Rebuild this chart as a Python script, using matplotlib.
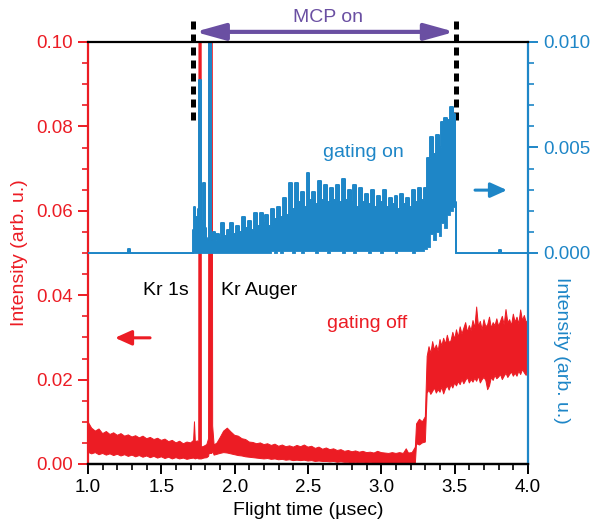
import matplotlib
matplotlib.use("Agg")
import matplotlib.pyplot as plt
from matplotlib.ticker import FixedLocator, MultipleLocator

plt.rcParams["font.family"] = ["Liberation Sans", "DejaVu Sans"]

RED = "#ec1c24"
BLUE = "#1e86c7"
PURPLE = "#6a4fa2"

# "gating off" trace (left axis): upper and lower edge of the noisy band
off_time = [
    1.000, 1.025, 1.050, 1.075, 1.100, 1.125, 1.150, 1.175,
    1.200, 1.225, 1.250, 1.275, 1.300, 1.325, 1.350, 1.375,
    1.400, 1.425, 1.450, 1.475, 1.500, 1.525, 1.550, 1.575,
    1.600, 1.625, 1.650, 1.675, 1.700, 1.720, 1.726, 1.732,
    1.745, 1.755, 1.758, 1.770, 1.773, 1.790, 1.810, 1.822,
    1.826, 1.844, 1.850, 1.860, 1.880, 1.900, 1.925, 1.950,
    1.975, 2.000, 2.025, 2.050, 2.075, 2.100, 2.125, 2.150,
    2.175, 2.200, 2.225, 2.250, 2.275, 2.300, 2.325, 2.350,
    2.375, 2.400, 2.425, 2.450, 2.475, 2.500, 2.525, 2.550,
    2.575, 2.600, 2.625, 2.650, 2.675, 2.700, 2.725, 2.750,
    2.775, 2.800, 2.825, 2.850, 2.875, 2.900, 2.925, 2.950,
    2.975, 3.000, 3.025, 3.050, 3.075, 3.100, 3.125, 3.150,
    3.170, 3.185, 3.210, 3.232, 3.240, 3.260, 3.280, 3.300,
    3.3125, 3.325, 3.3375, 3.350, 3.3625, 3.375, 3.3875, 3.400,
    3.4125, 3.425, 3.4375, 3.450, 3.4625, 3.475, 3.4875, 3.500,
    3.5125, 3.525, 3.5375, 3.550, 3.5625, 3.575, 3.5875, 3.600,
    3.6125, 3.625, 3.6375, 3.650, 3.6625, 3.675, 3.6875, 3.700,
    3.7125, 3.725, 3.7375, 3.750, 3.7625, 3.775, 3.7875, 3.800,
    3.8125, 3.825, 3.8375, 3.850, 3.8625, 3.875, 3.8875, 3.900,
    3.9125, 3.925, 3.9375, 3.950, 3.9625, 3.975, 3.9875, 4.000,
]
off_high = [
    0.0100, 0.0085, 0.0078, 0.0083, 0.0072, 0.0077, 0.0070, 0.0074,
    0.0068, 0.0072, 0.0066, 0.0069, 0.0064, 0.0067, 0.0062, 0.0066,
    0.0060, 0.0063, 0.0058, 0.0061, 0.0056, 0.0059, 0.0053, 0.0056,
    0.0050, 0.0054, 0.0048, 0.0052, 0.0050, 0.0056, 0.0100, 0.0052,
    0.0055, 0.0050, 0.2000, 0.2000, 0.0040, 0.0042, 0.0046, 0.0060,
    0.2000, 0.2000, 0.0090, 0.0045, 0.0050, 0.0062, 0.0078, 0.0085,
    0.0076, 0.0068, 0.0066, 0.0060, 0.0058, 0.0052, 0.0051, 0.0048,
    0.0050, 0.0046, 0.0048, 0.0044, 0.0047, 0.0042, 0.0045, 0.0041,
    0.0043, 0.0040, 0.0044, 0.0041, 0.0045, 0.0040, 0.0042, 0.0037,
    0.0040, 0.0035, 0.0038, 0.0034, 0.0036, 0.0032, 0.0034, 0.0030,
    0.0032, 0.0029, 0.0031, 0.0028, 0.0030, 0.0027, 0.0028, 0.0026,
    0.0030, 0.0027, 0.0026, 0.0025, 0.0027, 0.0025, 0.0027, 0.0025,
    0.0036, 0.0026, 0.0027, 0.0040, 0.0095, 0.0106, 0.0100, 0.0112,
    0.0255, 0.0278, 0.0262, 0.0290, 0.0270, 0.0282, 0.0268, 0.0295,
    0.0280, 0.0298, 0.0284, 0.0305, 0.0288, 0.0292, 0.0312, 0.0296,
    0.0318, 0.0300, 0.0325, 0.0308, 0.0322, 0.0335, 0.0312, 0.0328,
    0.0316, 0.0340, 0.0322, 0.0372, 0.0325, 0.0338, 0.0318, 0.0342,
    0.0325, 0.0330, 0.0348, 0.0322, 0.0335, 0.0328, 0.0344, 0.0326,
    0.0338, 0.0350, 0.0330, 0.0366, 0.0335, 0.0342, 0.0328, 0.0355,
    0.0336, 0.0348, 0.0332, 0.0365, 0.0340, 0.0352, 0.0336, 0.0340,
]
off_low = [
    0.0028, 0.0024, 0.0027, 0.0022, 0.0025, 0.0021, 0.0024, 0.0020,
    0.0023, 0.0019, 0.0022, 0.0018, 0.0021, 0.0017, 0.0020, 0.0016,
    0.0019, 0.0015, 0.0018, 0.0014, 0.0017, 0.0013, 0.0016, 0.0012,
    0.0015, 0.0012, 0.0014, 0.0011, 0.0013, 0.0014, 0.0013, 0.0012,
    0.0014, 0.0012, 0.0012, 0.0012, 0.0012, 0.0014, 0.0015, 0.0018,
    0.0025, 0.0025, 0.0030, 0.0021, 0.0023, 0.0025, 0.0027, 0.0026,
    0.0024, 0.0022, 0.0020, 0.0019, 0.0017, 0.0016, 0.0015, 0.0014,
    0.0013, 0.0012, 0.0013, 0.0011, 0.0012, 0.0010, 0.0011, 0.0009,
    0.0010, 0.0008, 0.0009, 0.0008, 0.0009, 0.0007, 0.0008, 0.0006,
    0.0007, 0.0006, 0.0006, 0.0005, 0.0006, 0.0004, 0.0005, 0.0004,
    0.0004, 0.0003, 0.0004, 0.0003, 0.0003, 0.0002, 0.0003, 0.0002,
    0.0002, 0.0002, 0.0002, 0.0002, 0.0002, 0.0002, 0.0002, 0.0002,
    0.0002, 0.0002, 0.0002, 0.0002, 0.0048, 0.0045, 0.0050, 0.0052,
    0.0168, 0.0175, 0.0165, 0.0172, 0.0180, 0.0168, 0.0176, 0.0170,
    0.0182, 0.0166, 0.0178, 0.0185, 0.0175, 0.0188, 0.0180, 0.0192,
    0.0185, 0.0195, 0.0188, 0.0200, 0.0190, 0.0198, 0.0205, 0.0192,
    0.0200, 0.0194, 0.0203, 0.0196, 0.0208, 0.0192, 0.0200, 0.0205,
    0.0198, 0.0176, 0.0185, 0.0205, 0.0198, 0.0210, 0.0202, 0.0206,
    0.0212, 0.0200, 0.0208, 0.0215, 0.0205, 0.0212, 0.0218, 0.0208,
    0.0215, 0.0208, 0.0220, 0.0212, 0.0224, 0.0216, 0.0210, 0.0222,
]

# "gating on" trace (right axis), step-like signal
on_time = [
    1.000, 1.270, 1.280, 1.290, 1.715, 1.720, 1.726, 1.733,
    1.740, 1.748, 1.756, 1.764, 1.772, 1.780, 1.790, 1.800,
    1.810, 1.820, 1.832, 1.840, 1.850, 1.860, 1.870, 1.880,
    1.900, 1.920, 1.940, 1.960, 1.980, 2.000, 2.020, 2.040,
    2.060, 2.080, 2.100, 2.120, 2.140, 2.160, 2.180, 2.200,
    2.220, 2.240, 2.260, 2.280, 2.300, 2.320, 2.340, 2.360,
    2.380, 2.400, 2.420, 2.440, 2.460, 2.480, 2.500, 2.520,
    2.540, 2.560, 2.580, 2.600, 2.620, 2.640, 2.660, 2.680,
    2.700, 2.720, 2.740, 2.760, 2.780, 2.800, 2.820, 2.840,
    2.860, 2.880, 2.900, 2.920, 2.940, 2.960, 2.980, 3.000,
    3.020, 3.040, 3.060, 3.080, 3.100, 3.120, 3.140, 3.160,
    3.180, 3.200, 3.220, 3.240, 3.260, 3.280, 3.300, 3.320,
    3.340, 3.360, 3.380, 3.400, 3.420, 3.440, 3.460, 3.480,
    3.500, 3.508, 3.514, 3.800, 3.810, 3.820, 4.000,
]
on_high = [
    0.0, 0.0, 0.00018, 0.0, 0.0, 0.0011, 0.0022, 0.0012,
    0.0017, 0.0009, 0.0021, 0.0082, 0.0008, 0.0015, 0.0033, 0.0012,
    0.0006, 0.0007, 0.0150, 0.0006, 0.0007, 0.0010, 0.0006, 0.0009,
    0.0007, 0.0014, 0.0008, 0.0011, 0.0014, 0.0009, 0.0013, 0.0010,
    0.0017, 0.0012, 0.0015, 0.0011, 0.0019, 0.0013, 0.0019, 0.0014,
    0.0018, 0.0013, 0.0021, 0.0016, 0.0022, 0.0017, 0.0026, 0.0018,
    0.0033, 0.0021, 0.0033, 0.0024, 0.0029, 0.0022, 0.0038, 0.0025,
    0.0029, 0.0023, 0.0034, 0.0025, 0.0032, 0.0024, 0.0031, 0.0025,
    0.0032, 0.0024, 0.0035, 0.0025, 0.0030, 0.0024, 0.0032, 0.0022,
    0.0031, 0.0024, 0.0028, 0.0023, 0.0030, 0.0022, 0.0027, 0.0024,
    0.0030, 0.0022, 0.0026, 0.0023, 0.0027, 0.0021, 0.0028, 0.0023,
    0.0026, 0.0022, 0.0030, 0.0024, 0.0031, 0.0025, 0.0031, 0.0045,
    0.0055, 0.0047, 0.0056, 0.0050, 0.0062, 0.0064, 0.0063, 0.0069,
    0.0066, 0.0024, 0.0, 0.0, 0.00012, 0.0, 0.0,
]
on_low = [
    0.0, 0.0, 0.0, 0.0, 0.0, 0.0, 0.0, 0.0,
    0.0, 0.0, 0.0, 0.0, 0.0, 0.0, 0.0, 0.0,
    0.0, 0.0, 0.0, 0.0, 0.0, 0.0, 0.0, 0.0,
    0.0, 0.0, 0.0, 0.0, 0.0, 0.0, 0.0, 0.0,
    0.0, 0.0, 0.0, 0.0, 0.0, 0.0, 0.0, 0.0,
    0.0, 0.0, 0.0001, 0.0, 0.0001, 0.0, 0.0001, 0.0001,
    0.0001, 0.0, 0.0001, 0.0001, 0.0, 0.0001, 0.0001, 0.0001,
    0.0001, 0.0, 0.0001, 0.0001, 0.0001, 0.0, 0.0001, 0.0001,
    0.0001, 0.0001, 0.0, 0.0001, 0.0001, 0.0001, 0.0, 0.0001,
    0.0001, 0.0001, 0.0001, 0.0, 0.0001, 0.0001, 0.0001, 0.0,
    0.0001, 0.0001, 0.0001, 0.0001, 0.0, 0.0001, 0.0001, 0.0001,
    0.0001, 0.0001, 0.0, 0.0001, 0.0001, 0.0001, 0.0002, 0.0003,
    0.0009, 0.0006, 0.0010, 0.0008, 0.0014, 0.0012, 0.0018, 0.0020,
    0.0022, 0.0, 0.0, 0.0, 0.0, 0.0, 0.0,
]

left_ticks = [0.00, 0.02, 0.04, 0.06, 0.08, 0.10]
right_ticks = [0.000, 0.005, 0.010]
right_minor = [0.001, 0.002, 0.003, 0.004, 0.006, 0.007, 0.008, 0.009]
x_ticks = [1.0, 1.5, 2.0, 2.5, 3.0, 3.5, 4.0]

fig = plt.figure(figsize=(5.92, 5.28), dpi=100)
ax = fig.add_axes([88 / 592, 1 - 464 / 528, 440 / 592, 422 / 528])
ax2 = ax.twinx()

ax.fill_between(off_time, off_low, off_high, color=RED, lw=0.7, edgecolor=RED)
ax2.fill_between(on_time, on_low, on_high, step="mid", color=BLUE, lw=0.6, edgecolor=BLUE)
ax2.step(on_time, on_high, where="mid", color=BLUE, lw=1.4)

ax.set_xlim(1.0, 4.0)
ax.set_ylim(0.0, 0.10)
ax2.set_ylim(-0.010, 0.010)

ax.set_xticks(x_ticks)
ax.set_xticklabels([f"{v:.1f}" for v in x_ticks])
ax.xaxis.set_minor_locator(MultipleLocator(0.1))
ax.set_yticks(left_ticks)
ax.set_yticklabels([f"{v:.2f}" for v in left_ticks])
ax.yaxis.set_minor_locator(MultipleLocator(0.005))
ax2.set_yticks(right_ticks)
ax2.set_yticklabels([f"{v:.3f}" for v in right_ticks])
ax2.yaxis.set_minor_locator(FixedLocator(right_minor))

for axis in (ax, ax2):
    for side in ("left", "right", "top", "bottom"):
        axis.spines[side].set_linewidth(1.6)
ax.spines["right"].set_visible(False)
ax.spines["top"].set_visible(False)
ax.spines["left"].set_color(RED)
ax.spines["bottom"].set_color("black")
ax2.spines["left"].set_visible(False)
ax2.spines["right"].set_color(BLUE)
ax2.spines["top"].set_color("black")
ax2.spines["bottom"].set_color("black")

ax.tick_params(axis="x", which="major", length=7, width=1.4, labelsize=13.5, pad=4, color="black")
ax.tick_params(axis="x", which="minor", length=4, width=1.2, color="black")
ax.tick_params(axis="y", which="major", length=7, width=1.4, labelsize=13.5, pad=4,
               color=RED, labelcolor=RED)
ax.tick_params(axis="y", which="minor", length=4, width=1.2, color=RED)
ax2.tick_params(axis="y", which="major", length=7, width=1.4, labelsize=13.5, pad=4,
                color=BLUE, labelcolor=BLUE)
ax2.tick_params(axis="y", which="minor", length=4, width=1.2, color=BLUE)

ax.set_xlabel("Flight time (µsec)", fontsize=14, labelpad=4)
ax.set_ylabel("Intensity (arb. u.)", fontsize=14, color=RED, labelpad=6)
ax2.set_ylabel("Intensity (arb. u.)", fontsize=14, color=BLUE, rotation=-90, labelpad=18)
ax2.yaxis.set_label_coords(1.095, 0.27)

# MCP-on window markers
for x_mark in (1.716, 3.509):
    ax.plot([x_mark, x_mark], [0.0815, 0.1052], color="black", lw=3.6,
            linestyle=(0, (1.6, 1.0)), clip_on=False, zorder=10)
ax.annotate("", xy=(1.73, 0.1024), xytext=(3.50, 0.1024), xycoords="data",
            arrowprops=dict(arrowstyle="<|-|>,head_length=1.8,head_width=0.5", mutation_scale=10,
                            color=PURPLE, lw=3, shrinkA=0, shrinkB=0),
            annotation_clip=False)
ax.text(2.633, 0.1057, "MCP on", color=PURPLE, fontsize=14, ha="center", va="center")

ax.text(2.875, 0.0737, "gating on", color=BLUE, fontsize=14, ha="center", va="center")
ax.text(2.902, 0.0334, "gating off", color=RED, fontsize=14, ha="center", va="center")
ax.text(1.532, 0.0412, "Kr 1s", color="black", fontsize=14, ha="center", va="center")
ax.text(2.169, 0.0412, "Kr Auger", color="black", fontsize=14, ha="center", va="center")

ax.annotate("", xy=(1.184, 0.0299), xytext=(1.423, 0.0299),
            arrowprops=dict(arrowstyle="-|>,head_length=1.0,head_width=0.45", mutation_scale=10,
                            color=RED, lw=2.2, shrinkA=0, shrinkB=0))
ax.annotate("", xy=(3.857, 0.0649), xytext=(3.639, 0.0649),
            arrowprops=dict(arrowstyle="-|>,head_length=1.0,head_width=0.45", mutation_scale=10,
                            color=BLUE, lw=2.2, shrinkA=0, shrinkB=0))

fig.savefig("out.png", dpi=100)
